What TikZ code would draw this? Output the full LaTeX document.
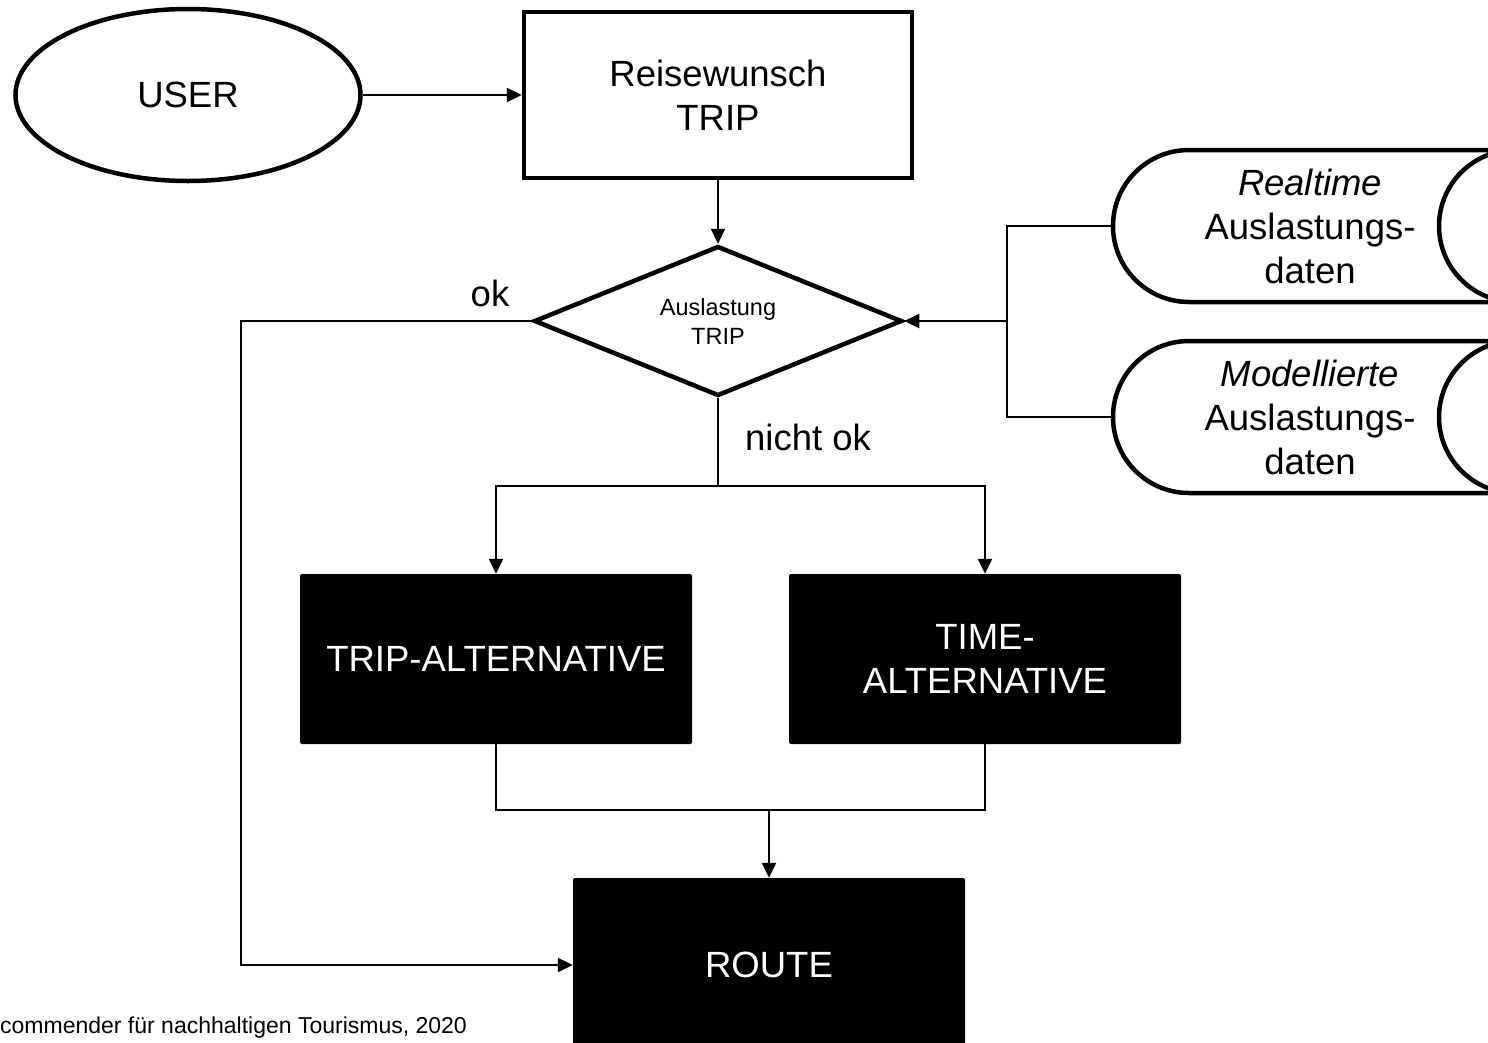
\documentclass[tikz,border=0pt]{standalone}
\usepackage{fontspec}
\setmainfont{Liberation Sans}
\usetikzlibrary{shapes.geometric,arrows.meta}

\begin{document}
\begin{tikzpicture}[x=1pt,y=-1pt,
    big/.style={font=\fontsize{36.5}{44}\selectfont},
    box/.style={draw,line width=4.5pt,align=center,big},
    darkbox/.style={fill=black,text=white,rounded corners=2pt,align=center,big,minimum width=392pt,minimum height=170pt},
    flow/.style={line width=2.2pt,-{Triangle[length=15pt,width=14pt]}},
    wire/.style={line width=2.2pt},
    store/.style={line width=4.5pt}]

    \clip (0,0) rectangle (1488,1042);

    % User and trip request
    \node[box,ellipse,minimum width=345pt,minimum height=172pt] (user) at (188,95) {USER};
    \node[box,minimum width=388pt,minimum height=166pt] (trip) at (718,95) {Reisewunsch\\TRIP};

    % Decision
    \node[box,diamond,aspect=2.45,minimum width=368pt,minimum height=150pt,inner sep=0pt,
          font=\fontsize{23.5}{29}\selectfont] (check) at (718,321) {Auslastung\\TRIP};
    \node[big] (oklabel) at (490,293) {ok};
    \node[big] (nichtok) at (808,437) {nicht ok};

    % Alternatives and route
    \node[darkbox] (tripalt) at (496,659) {TRIP-ALTERNATIVE};
    \node[darkbox] (timealt) at (985,659) {TIME-\\ALTERNATIVE};
    \node[darkbox,minimum height=174pt] (route) at (769,965) {ROUTE};

    % Data stores
    \foreach \name/\y/\kind in {rt/226/Realtime, md/417/Modellierte} {
        \draw[store] (1189,\y-76) arc[start angle=-90,end angle=-270,radius=76]
            -- (1515,\y+76) arc[start angle=90,end angle=270,radius=76] -- cycle;
        \node[big,align=center] (\name) at (1310,\y) {\textit{\kind}\\Auslastungs-\\daten};
        \coordinate (\name-in) at (1113,\y);
    }

    % Connectors
    \coordinate (join) at (1007,321);
    \coordinate (okcorner) at (241,321);
    \coordinate (split) at (718,486);
    \coordinate (merge) at (769,810);

    \draw[flow] (user) -- (trip);
    \draw[flow] (trip) -- (check);
    \draw[wire] (rt-in) -| (join);
    \draw[wire] (md-in) -| (join);
    \draw[flow] (join) -- (check.east);
    \draw[flow] (check.west) -- (okcorner) |- (route.west);
    \draw[wire] (check.south) -- (split);
    \draw[flow] (split) -| (tripalt.north);
    \draw[flow] (split) -| (timealt.north);
    \draw[wire] (tripalt.south) |- (merge);
    \draw[wire] (timealt.south) |- (merge);
    \draw[flow] (merge) -- (route.north);

    % Source
    \node[anchor=base west,inner sep=0pt,font=\fontsize{23}{28}\selectfont] (source) at (0,1033)
        {commender für nachhaltigen Tourismus, 2020};

\end{tikzpicture}
\end{document}
